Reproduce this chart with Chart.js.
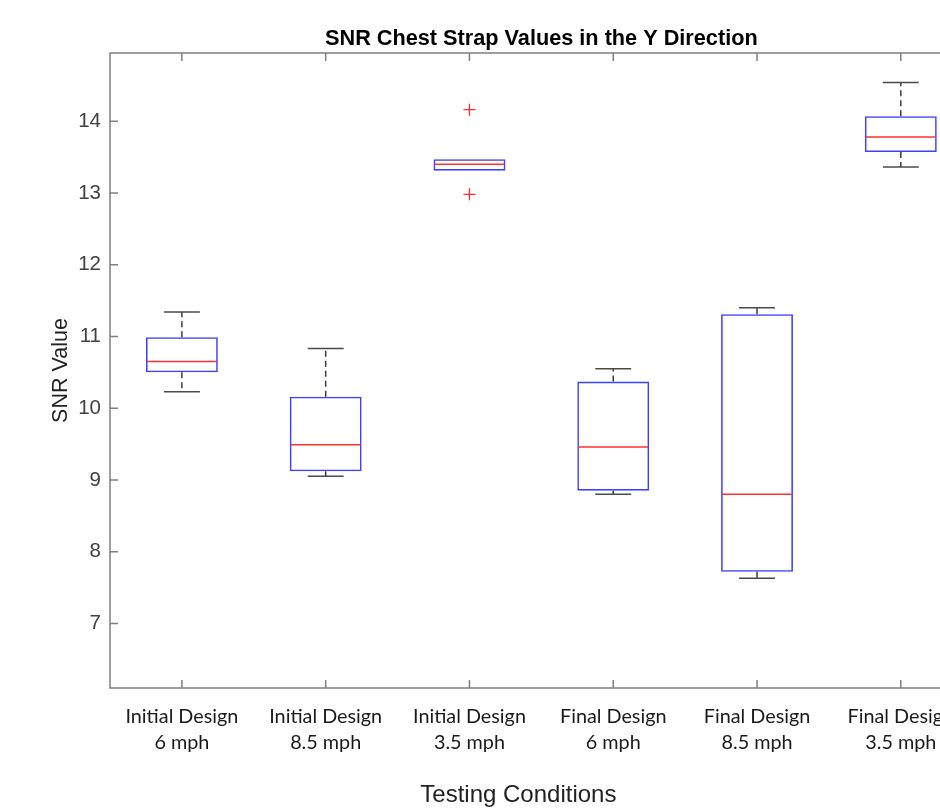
<!DOCTYPE html>
<html>
<head>
<meta charset="utf-8">
<script src="https://cdn.jsdelivr.net/npm/chart.js@4"></script>
<style>
  html, body { margin: 0; padding: 0; background: #fff; overflow: hidden; }
  #wrap { width: 980px; height: 809px; }
</style>
</head>
<body>
<div id="wrap"><canvas id="snrChart" width="980" height="809"></canvas></div>
<script>
const labels = [
  ["Initial Design", "6 mph"],
  ["Initial Design", "8.5 mph"],
  ["Initial Design", "3.5 mph"],
  ["Final Design", "6 mph"],
  ["Final Design", "8.5 mph"],
  ["Final Design", "3.5 mph"]
];
const whiskerLow  = [10.23, 9.05, 13.31, 8.80, 7.63, 13.36];
const q1          = [10.50, 9.12, 13.31, 8.85, 7.72, 13.57];
const medians     = [10.65, 9.49, 13.40, 9.46, 8.80, 13.78];
const q3          = [10.99, 10.16, 13.47, 10.37, 11.31, 14.07];
const whiskerHigh = [11.34, 10.83, 13.47, 10.55, 11.40, 14.54];
// [category index, value]
const outliers = [[2, 14.16], [2, 12.98]];
const yTicks = [7, 8, 9, 10, 11, 12, 13, 14];

const axisColor = "#7f7f7f";

const outlierSets = outliers.map(([idx, val]) => ({
  type: "line",
  data: labels.map((_, i) => (i === idx ? val : null)),
  showLine: false,
  pointStyle: "cross",
  pointRadius: 6,
  pointBorderWidth: 1.3,
  borderColor: "#ff2a2a",
  backgroundColor: "#ff2a2a"
}));

// whiskers, caps and medians drawn from the scales
const boxExtras = {
  id: "boxExtras",
  afterDatasetsDraw(chart) {
    const ctx = chart.ctx;
    const x = chart.scales.x, y = chart.scales.y;
    const bars = chart.getDatasetMeta(0).data;
    ctx.save();
    labels.forEach((_, i) => {
      const cx = x.getPixelForValue(i);
      const half = bars[i].width / 2;
      const cap = half / 2;
      // dashed whiskers
      ctx.strokeStyle = "#3a3a3a";
      ctx.lineWidth = 1.5;
      ctx.setLineDash([6, 4]);
      ctx.beginPath();
      ctx.moveTo(cx, y.getPixelForValue(q3[i]));
      ctx.lineTo(cx, y.getPixelForValue(whiskerHigh[i]));
      ctx.moveTo(cx, y.getPixelForValue(q1[i]));
      ctx.lineTo(cx, y.getPixelForValue(whiskerLow[i]));
      ctx.stroke();
      ctx.setLineDash([]);
      // caps
      if (whiskerHigh[i] !== q3[i] || whiskerLow[i] !== q1[i]) {
        ctx.strokeStyle = "#4a4a4a";
        ctx.beginPath();
        ctx.moveTo(cx - cap, y.getPixelForValue(whiskerHigh[i]));
        ctx.lineTo(cx + cap, y.getPixelForValue(whiskerHigh[i]));
        ctx.moveTo(cx - cap, y.getPixelForValue(whiskerLow[i]));
        ctx.lineTo(cx + cap, y.getPixelForValue(whiskerLow[i]));
        ctx.stroke();
      }
      // median
      ctx.strokeStyle = "#ff3030";
      ctx.beginPath();
      ctx.moveTo(cx - half + 1, y.getPixelForValue(medians[i]));
      ctx.lineTo(cx + half - 1, y.getPixelForValue(medians[i]));
      ctx.stroke();
    });
    ctx.restore();
  },
  afterDraw(chart) {
    const ctx = chart.ctx;
    const a = chart.chartArea;
    const x = chart.scales.x, y = chart.scales.y;
    ctx.save();
    ctx.strokeStyle = axisColor;
    ctx.lineWidth = 1.5;
    ctx.strokeRect(a.left, a.top, a.right - a.left, a.bottom - a.top);
    ctx.beginPath();
    x.ticks.forEach((t, i) => {
      const px = x.getPixelForTick(i);
      ctx.moveTo(px, a.bottom); ctx.lineTo(px, a.bottom - 8);
      ctx.moveTo(px, a.top); ctx.lineTo(px, a.top + 8);
    });
    y.ticks.forEach((t, i) => {
      const py = y.getPixelForTick(i);
      ctx.moveTo(a.left, py); ctx.lineTo(a.left + 8, py);
      ctx.moveTo(a.right, py); ctx.lineTo(a.right - 8, py);
    });
    ctx.stroke();
    ctx.textAlign = "center";
    // chart title, centred over the axes
    ctx.fillStyle = "#000";
    ctx.font = "bold 21.7px 'Liberation Sans', Arial, sans-serif";
    ctx.textBaseline = "middle";
    ctx.fillText("SNR Chest Strap Values in the Y Direction", (a.left + a.right) / 2, 39);
    // x axis title
    ctx.fillStyle = "#222";
    ctx.font = "24px 'Liberation Sans', Arial, sans-serif";
    ctx.textBaseline = "alphabetic";
    ctx.fillText("Testing Conditions", (a.left + a.right) / 2 - 23, 802);
    ctx.restore();
  }
};

const ctx = document.getElementById("snrChart").getContext("2d");
new Chart(ctx, {
  type: "bar",
  data: {
    labels: labels,
    datasets: [{
      data: labels.map((_, i) => [q1[i], q3[i]]),
      backgroundColor: "rgba(0,0,0,0)",
      borderColor: "#3f3fff",
      borderWidth: 1.6,
      borderSkipped: false,
      barPercentage: 0.5,
      categoryPercentage: 1.0,
      grouped: false
    }, ...outlierSets]
  },
  options: {
    responsive: false,
    animation: false,
    devicePixelRatio: 1,
    layout: { padding: { left: 0, right: 6, top: 53, bottom: 0 } },
    scales: {
      x: {
        offset: true,
        grid: { display: false, drawTicks: false },
        border: { display: false },
        ticks: {
          color: "#1a1a1a",
          font: { family: "Lato, 'Open Sans', sans-serif", size: 19.8, lineHeight: 1.31 },
          padding: 16,
          maxRotation: 0,
          autoSkip: false
        },
        afterFit: s => { s.height = 121; }
      },
      y: {
        min: 6.1,
        max: 14.95,
        grid: { display: false, drawTicks: false },
        border: { display: false },
        afterBuildTicks: s => { s.ticks = yTicks.map(v => ({ value: v })); },
        ticks: {
          color: "#404040",
          font: { family: "'Liberation Sans', Arial, sans-serif", size: 20.5 },
          padding: 9
        },
        title: {
          display: true,
          text: "SNR Value",
          color: "#222",
          font: { family: "'Liberation Sans', Arial, sans-serif", size: 21.5 },
          padding: { top: 48, bottom: 0 }
        },
        afterFit: s => { s.width = 110; }
      }
    },
    plugins: {
      legend: { display: false },
      tooltip: { enabled: false },
      title: { display: false }
    }
  },
  plugins: [boxExtras]
});
</script>
</body>
</html>
